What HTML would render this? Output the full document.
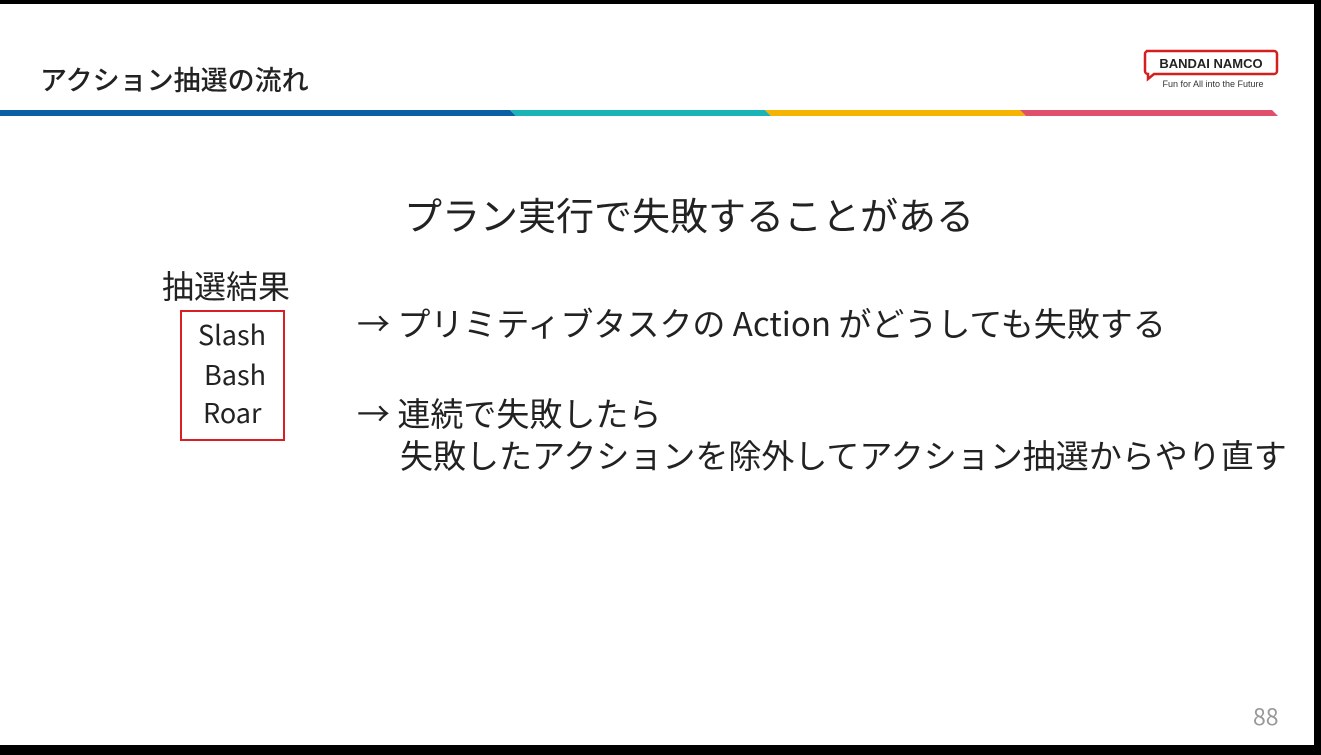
<!DOCTYPE html>
<html><head><meta charset="utf-8"><style>
body{margin:0;width:1321px;height:755px;background:#000;position:relative;overflow:hidden;font-family:"Noto Sans CJK JP","Liberation Sans",sans-serif;color:#222}
.page{position:absolute;left:0;top:4px;width:1314px;height:741px;background:#fff}
.t{position:absolute;white-space:nowrap;line-height:1}
</style></head><body>
<div class="page"></div>
<div class="t" style="left:40px;top:65px;font-size:27px;font-weight:500;color:#222">アクション抽選の流れ</div>
<svg style="position:absolute;left:0;top:0" width="1321" height="130">
<polygon points="0,110 510,110 516,116 0,116" fill="#0b5fa5"/>
<polygon points="510,110 765,110 771,116 516,116" fill="#1ab3b6"/>
<polygon points="765,110 1020,110 1026,116 771,116" fill="#f4b400"/>
<polygon points="1020,110 1272,110 1278,116 1026,116" fill="#e04f6b"/>
<path d="M1146,51 h128 a3,3 0 0 1 3,3 v17 a3,3 0 0 1 -3,3 h-120 l-6,5 v-5 a3,3 0 0 1 -3,-3 v-17 a3,3 0 0 1 3,-3z" fill="#fff" stroke="#d41f1f" stroke-width="2.5"/>
<text x="1211" y="68" font-family="Liberation Sans" font-weight="bold" font-size="13" text-anchor="middle" fill="#222">BANDAI NAMCO</text>
<text x="1213" y="87" font-family="Liberation Sans" font-size="9" text-anchor="middle" fill="#333">Fun for All into the Future</text>
</svg>
<div class="t" style="left:404px;top:195px;font-size:38px">プラン実行で失敗することがある</div>
<div class="t" style="left:162px;top:269px;font-size:32px">抽選結果</div>
<div style="position:absolute;left:180px;top:310px;width:101px;height:127px;border:2px solid #d81f26"></div>
<div class="t" style="left:198px;top:320px;font-size:27px">Slash</div>
<div class="t" style="left:204px;top:360px;font-size:27px">Bash</div>
<div class="t" style="left:203px;top:398px;font-size:27px">Roar</div>
<div class="t" style="left:357px;top:306px;font-size:33px">→ プリミティブタスクの Action がどうしても失敗する</div>
<div class="t" style="left:357px;top:396px;font-size:33px">→ 連続で失敗したら</div>
<div class="t" style="left:400px;top:438px;font-size:33px">失敗したアクションを除外してアクション抽選からやり直す</div>
<div class="t" style="left:1253px;top:704px;font-size:23px;color:#999">88</div>
</body></html>
